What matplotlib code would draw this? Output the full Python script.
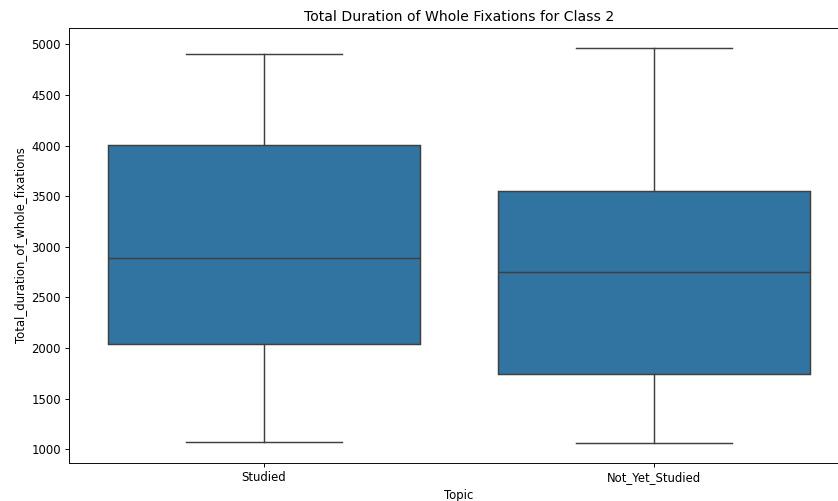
import matplotlib
matplotlib.use("Agg")
import matplotlib.pyplot as plt

# box statistics
topics = ["Studied", "Not_Yet_Studied"]
whisker_low = [1069, 1062]
q1 = [2040, 1744]
median = [2890, 2752]
q3 = [4005, 3554]
whisker_high = [4900, 4968]

box_color = "#3274a1"
line_color = (0.248, 0.248, 0.248)

stats = []
for i, name in enumerate(topics):
    stats.append({
        "label": name,
        "whislo": whisker_low[i],
        "q1": q1[i],
        "med": median[i],
        "q3": q3[i],
        "whishi": whisker_high[i],
        "fliers": [],
    })

# original was a 10x6 figure shrunk down to 838 px wide
fig = plt.figure(figsize=(10, 5.98), dpi=83.8)
# the screenshot cuts off the right edge of the axes
ax = fig.add_axes([0.0823, 0.0765, 0.931, 0.8677])

lw = 1.25
ax.bxp(
    stats,
    positions=range(len(topics)),
    widths=0.8,
    patch_artist=True,
    showfliers=False,
    boxprops=dict(facecolor=box_color, edgecolor=line_color, linewidth=lw),
    whiskerprops=dict(color=line_color, linewidth=lw),
    capprops=dict(color=line_color, linewidth=lw),
    medianprops=dict(color=line_color, linewidth=lw),
    capwidths=0.4,
)

ax.set_xlim(-0.5, 1.5)
ax.margins(y=0.05)
ax.set_xticks(range(len(topics)))
ax.set_xticklabels(topics)
ax.set_title("Total Duration of Whole Fixations for Class 2")
ax.set_xlabel("Topic")
ax.set_ylabel("Total_duration_of_whole_fixations")

fig.savefig("out.png", dpi=83.8)
